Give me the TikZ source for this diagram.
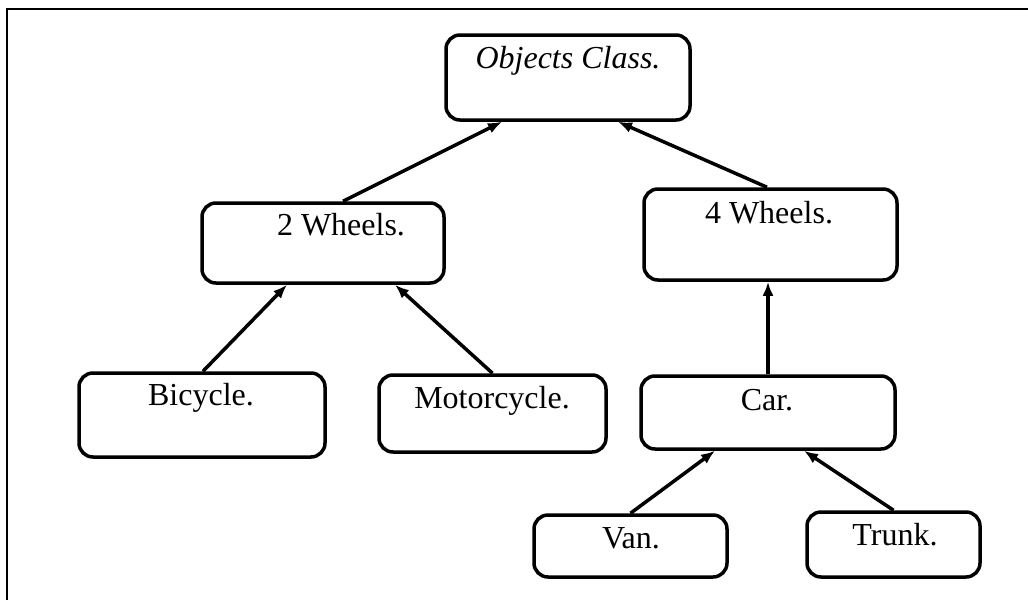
\documentclass[tikz,border=0pt]{standalone}
\usepackage{fontspec}
\setmainfont{Liberation Serif}
\usetikzlibrary{arrows.meta}
\begin{document}
\begin{tikzpicture}[x=1pt,y=-1pt,
  box/.style={draw, line width=3.5pt, rounded corners=14pt, inner sep=0pt, fill=white},
  lbl/.style={anchor=base, inner sep=0pt, font=\fontsize{32}{38}\selectfont},
  arr/.style={line width=3.5pt, -{Latex[length=14pt,width=11pt]}},
  frame/.style={line width=2pt}]
\useasboundingbox (0,0) rectangle (1028,600);
\coordinate (fb) at (7,600);
\coordinate (fc) at (7,9);
\coordinate (fr) at (1028,9);
\draw[frame] (fb) -- (fc) -- (fr);

\node[box, minimum width=244pt, minimum height=85pt] (obj) at (568,77.5) {};
\node[box, minimum width=242pt, minimum height=80pt] (w2) at (323,243) {};
\node[box, minimum width=253pt, minimum height=91pt] (w4) at (770.5,234.5) {};
\node[box, minimum width=246pt, minimum height=84pt] (bic) at (202,415) {};
\node[box, minimum width=227pt, minimum height=77pt] (mot) at (492.5,413.5) {};
\node[box, minimum width=254pt, minimum height=73pt] (car) at (768,412.5) {};
\node[box, minimum width=193pt, minimum height=62pt] (van) at (630.5,546) {};
\node[box, minimum width=173pt, minimum height=65pt] (trk) at (893.5,544.5) {};

\node[lbl] (tobj) at (568,68) {\textit{Objects Class.}};
\node[lbl] (tw2) at (341,235) {2 Wheels.};
\node[lbl] (tw4) at (769,223) {4 Wheels.};
\node[lbl] (tbic) at (201,405) {Bicycle.};
\node[lbl] (tmot) at (492,408) {Motorcycle.};
\node[lbl] (tcar) at (767,410) {Car.};
\node[lbl] (tvan) at (631,548) {Van.};
\node[lbl] (ttrk) at (895,545) {Trunk.};

\draw[arr] ([xshift=20pt]w2.north) -- ([xshift=-66pt]obj.south);
\draw[arr] ([xshift=-3.5pt]w4.north) -- ([xshift=50pt]obj.south);
\draw[arr] ([xshift=1pt]bic.north) -- ([xshift=-36pt]w2.south);
\draw[arr] (mot.north) -- ([xshift=72pt]w2.south);
\draw[arr] (car.north) -- (car.north |- w4.south);
\draw[arr] (van.north) -- ([xshift=-53pt]car.south);
\draw[arr] (trk.north) -- ([xshift=36pt]car.south);
\end{tikzpicture}
\end{document}
